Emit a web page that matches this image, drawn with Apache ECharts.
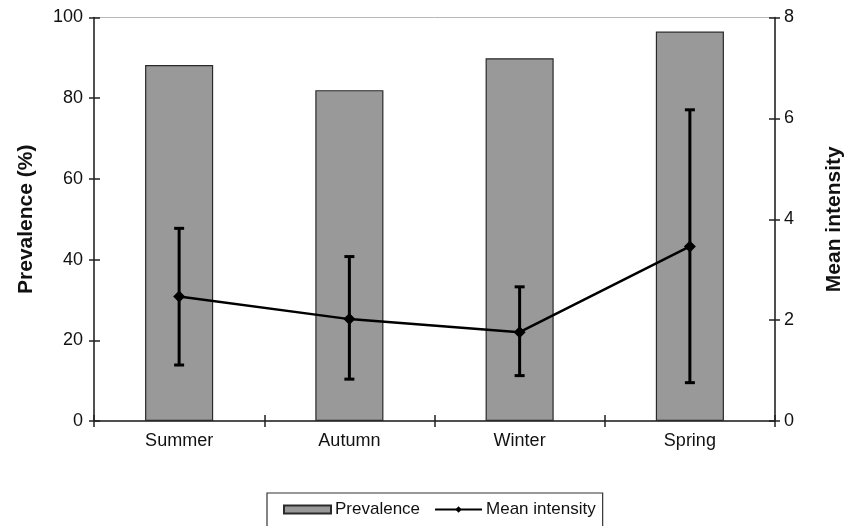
<!DOCTYPE html>
<html>
<head>
<meta charset="utf-8">
<script src="https://cdn.jsdelivr.net/npm/echarts@6/dist/echarts.min.js"></script>
<style>html,body{margin:0;padding:0;background:#fff;}#c{width:857px;height:526px;}</style>
</head>
<body>
<div id="c"></div>
<script>
var categories = ['Summer', 'Autumn', 'Winter', 'Spring'];
var prevalence = [88.2, 82.0, 89.9, 96.5];
var meanIntensity = [2.47, 2.02, 1.76, 3.46];
var errLow = [1.11, 0.83, 0.90, 0.76];
var errHigh = [3.82, 3.26, 2.66, 6.17];

var FONT = '"Liberation Sans", Arial, sans-serif';
var chart = echarts.init(document.getElementById('c'));
var errData = categories.map(function (c, i) { return [i, errLow[i], errHigh[i]]; });

chart.setOption({
  animation: false,
  textStyle: { fontFamily: FONT },
  grid: { left: 94, right: 82, top: 17.5, bottom: 105, show: true, borderColor: '#b8b8b8', borderWidth: 1 },
  legend: {
    left: 267, top: 493,
    data: [{ name: 'Prevalence', icon: 'rect' }, { name: 'Mean intensity' }],
    itemWidth: 47, itemHeight: 8, itemGap: 14,
    padding: [8, 7, 12, 16],
    borderColor: '#333', borderWidth: 1.2,
    textStyle: { fontFamily: FONT, fontSize: 17, color: '#111', padding: [0, 0, 0, -1] }
  },
  xAxis: [{
    type: 'category', data: categories, position: 'bottom',
    axisLine: { lineStyle: { color: '#222', width: 1.5 } },
    axisTick: { show: true, length: 6, lineStyle: { color: '#222', width: 1.5 } },
    axisLabel: { fontFamily: FONT, fontSize: 18, color: '#111', margin: 11 }
  }, {
    type: 'category', data: categories, position: 'bottom',
    axisLine: { show: false },
    axisTick: { show: true, inside: true, length: 6, lineStyle: { color: '#222', width: 1.5 } },
    axisLabel: { show: false }
  }],
  yAxis: [{
    type: 'value', min: 0, max: 100, interval: 20, position: 'left',
    name: 'Prevalence (%)', nameLocation: 'middle', nameGap: 57, nameRotate: 90,
    nameTextStyle: { fontFamily: FONT, fontSize: 21, fontWeight: 'bold', color: '#111' },
    axisLine: { show: true, lineStyle: { color: '#222', width: 1.5 } },
    axisTick: { show: true, length: 5, lineStyle: { color: '#222', width: 1.5 } },
    axisLabel: { fontFamily: FONT, fontSize: 18, color: '#111', margin: 11 },
    splitLine: { show: false }
  }, {
    type: 'value', min: 0, max: 8, interval: 2, position: 'right',
    name: 'Mean intensity', nameLocation: 'middle', nameGap: 49, nameRotate: 90,
    nameTextStyle: { fontFamily: FONT, fontSize: 21, fontWeight: 'bold', color: '#111' },
    axisLine: { show: true, lineStyle: { color: '#222', width: 1.5 } },
    axisTick: { show: true, length: 5, lineStyle: { color: '#222', width: 1.5 } },
    axisLabel: { fontFamily: FONT, fontSize: 18, color: '#111', margin: 9 },
    splitLine: { show: false }
  }, {
    type: 'value', min: 0, max: 100, interval: 20, position: 'left',
    axisLine: { show: false },
    axisTick: { show: true, inside: true, length: 6, lineStyle: { color: '#222', width: 1.5 } },
    axisLabel: { show: false }, splitLine: { show: false }
  }, {
    type: 'value', min: 0, max: 8, interval: 2, position: 'right',
    axisLine: { show: false },
    axisTick: { show: true, inside: true, length: 6, lineStyle: { color: '#222', width: 1.5 } },
    axisLabel: { show: false }, splitLine: { show: false }
  }],
  series: [{
    name: 'Prevalence', type: 'bar', data: prevalence, barWidth: '40%',
    itemStyle: { color: '#999999', borderColor: '#2a2a2a', borderWidth: 1.2 },
    z: 2
  }, {
    name: 'Error', type: 'custom', xAxisIndex: 0, yAxisIndex: 1, data: errData, z: 3,
    encode: { x: 0, y: [1, 2] },
    renderItem: function (params, api) {
      var i = api.value(0);
      var lo = api.coord([i, api.value(1)]);
      var hi = api.coord([i, api.value(2)]);
      var w = 5;
      var st = { stroke: '#000', lineWidth: 3 };
      return { type: 'group', children: [
        { type: 'line', shape: { x1: hi[0], y1: hi[1], x2: lo[0], y2: lo[1] }, style: st },
        { type: 'line', shape: { x1: hi[0] - w, y1: hi[1], x2: hi[0] + w, y2: hi[1] }, style: st },
        { type: 'line', shape: { x1: lo[0] - w, y1: lo[1], x2: lo[0] + w, y2: lo[1] }, style: st }
      ] };
    }
  }, {
    name: 'Mean intensity', type: 'line', yAxisIndex: 1, data: meanIntensity,
    symbol: 'diamond', symbolSize: 12,
    itemStyle: { color: '#000' },
    lineStyle: { color: '#000', width: 2.5 },
    z: 4
  }]
});
</script>
</body>
</html>
